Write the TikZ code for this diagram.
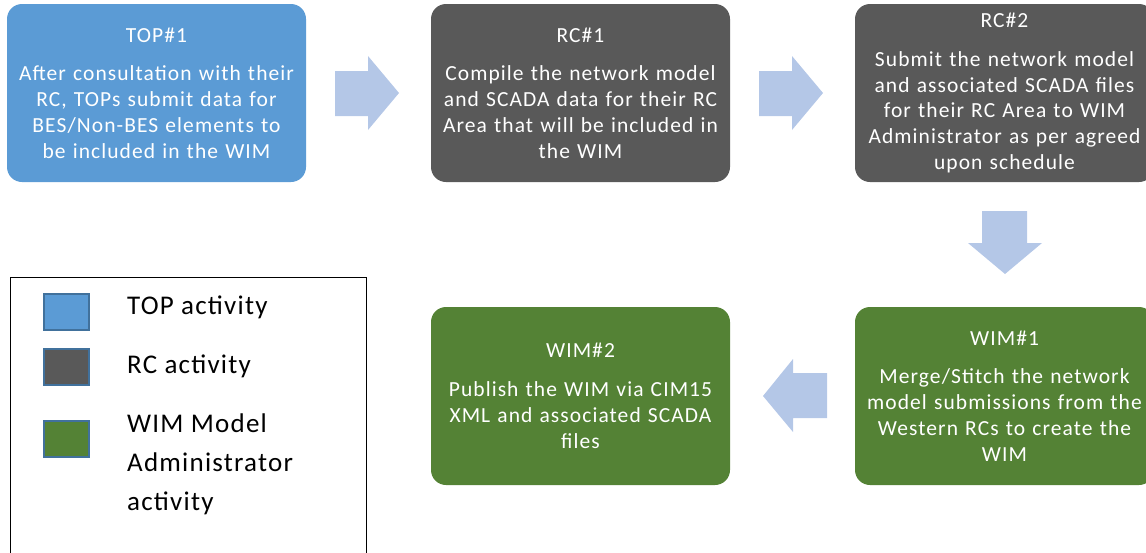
\documentclass[tikz,border=0pt]{standalone}
\usepackage{fontspec}
\setmainfont{Carlito}
\newfontfamily\boxfont[LetterSpace=5]{Carlito}
\newfontfamily\legfont[LetterSpace=4.5]{Carlito}
\definecolor{topblue}{HTML}{5B9BD5}
\definecolor{rcgray}{HTML}{595959}
\definecolor{wimgreen}{HTML}{548235}
\definecolor{arrowblue}{HTML}{B4C7E7}
\definecolor{legborder}{HTML}{41719C}
\tikzset{
  stepbox/.style={rounded corners=15pt, minimum width=299pt, minimum height=178pt, text width=298pt,
    align=center, text=white, inner sep=0pt, font=\boxfont\fontsize{21.5}{25.8}\selectfont},
  blockarrow/.style={fill=arrowblue, draw=none},
  legsq/.style={draw=legborder, line width=2pt, minimum width=45pt, minimum height=36pt, inner sep=0pt},
  legtext/.style={anchor=west, align=left, inner sep=0pt, font=\legfont\fontsize{27}{39}\selectfont}
}
\begin{document}
\begin{tikzpicture}[x=1pt,y=-1pt]
\useasboundingbox (0,0) rectangle (1146,552);
\clip (0,0) rectangle (1146,552);
% boxes
\node[stepbox, fill=topblue] (top1) at (156.5,93) {TOP\#1\\[13pt]After consultation with their\\RC, TOPs submit data for\\BES/Non-BES elements to\\be included in the WIM};
\node[stepbox, fill=rcgray] (rc1) at (580.5,93) {RC\#1\\[13pt]Compile the network model\\and SCADA data for their RC\\Area that will be included in\\the WIM};
\node[stepbox, fill=rcgray] (rc2) at (1004.5,93) {RC\#2\\[13pt]Submit the network model\\and associated SCADA files\\for their RC Area to WIM\\Administrator as per agreed\\upon schedule};
\node[stepbox, fill=wimgreen] (wim1) at (1004.5,396) {WIM\#1\\[13pt]Merge/Stitch the network\\model submissions from the\\Western RCs to create the\\WIM};
\node[stepbox, fill=wimgreen] (wim2) at (580.5,396) {WIM\#2\\[13pt]Publish the WIM via CIM15\\XML and associated SCADA\\files};
% block arrows
\fill[blockarrow] (335,71) -- (368,71) -- (368,56) -- (399,93) -- (368,130) -- (368,116) -- (335,116) -- cycle;
\fill[blockarrow] (759,71) -- (792,71) -- (792,56) -- (823,93) -- (792,130) -- (792,116) -- (759,116) -- cycle;
\fill[blockarrow] (982,211) -- (1027,211) -- (1027,243) -- (1042,243) -- (1005,274) -- (968,243) -- (982,243) -- cycle;
\fill[blockarrow] (827,373) -- (793,373) -- (793,359) -- (763,396) -- (793,432) -- (793,418) -- (827,418) -- cycle;
% legend
\draw[black, line width=1pt] (10,277) rectangle (366,560);
\node[legsq, fill=topblue] (sq1) at (66.5,312) {};
\node[legsq, fill=rcgray] (sq2) at (66.5,367) {};
\node[legsq, fill=wimgreen] (sq3) at (66.5,439) {};
\node[legtext] (l1) at (127,307) {TOP activity};
\node[legtext] (l2) at (127,366) {RC activity};
\node[legtext] (l3) at (127,464) {WIM Model\\Administrator\\activity};
\end{tikzpicture}
\end{document}
